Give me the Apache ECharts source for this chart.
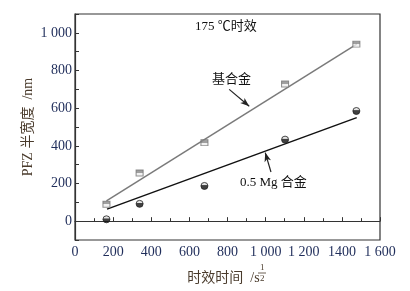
<!DOCTYPE html>
<html>
<head>
<meta charset="utf-8">
<script src="https://cdn.jsdelivr.net/npm/echarts@6/dist/echarts.min.js"></script>
<style>
html,body{margin:0;padding:0;background:#fff;}
#chart{width:410px;height:291px;}
</style>
</head>
<body>
<div id="chart"></div>
<script>
// 数据
var baseX = [165, 339, 679, 1102, 1476];
var baseY = [90, 256, 417, 728, 940];
var mgX = [165, 339, 679, 1102, 1476];
var mgY = [10, 92, 187, 433, 585];
// 拟合直线端点
var baseFit = [[165, 108], [1478, 940]];
var mgFit = [[168, 64], [1478, 550]];
var xLabels = {0: "0", 200: "200", 400: "400", 600: "600", 800: "800", 1000: "1 000", 1200: "1 200", 1400: "1400", 1600: "1 600"};
var yLabels = {0: "0", 200: "200", 400: "400", 600: "600", 800: "800", 1000: "1 000"};

var FONT = "'Liberation Serif', 'Noto Sans CJK SC', serif";
var tickColor = "#1f2d5a";
var titleColor = "#4a3b2c";

function zip(xs, ys) {
	return xs.map(function (x, i) { return [x, ys[i]]; });
}

var myChart = echarts.init(document.getElementById("chart"));

var option = {
	animation: false,
	grid: { left: 75, right: 30, top: 14, bottom: 51, show: true, borderColor: "#333", borderWidth: 1.2, backgroundColor: "transparent" },
	xAxis: {
		type: "value",
		min: 0,
		max: 1600,
		interval: 200,
		name: "时效时间  /s{f|}",
		nameLocation: "middle",
		nameGap: 31,
		nameMoveOverlap: false,
		nameTextStyle: {
			fontFamily: FONT, fontSize: 14, color: titleColor,
			rich: { f: { width: 8, height: 14 } }
		},
		axisLine: { show: true, lineStyle: { color: "#333", width: 1.2 } },
		axisTick: { inside: true, length: 4, lineStyle: { color: "#333" } },
		minorTick: { show: true, splitNumber: 2, length: 3, lineStyle: { color: "#333" } },
		splitLine: { show: false },
		axisLabel: {
			margin: 5,
			fontFamily: FONT,
			fontSize: 14,
			color: tickColor,
			formatter: function (v) { return xLabels[v] !== undefined ? xLabels[v] : ""; }
		}
	},
	yAxis: {
		type: "value",
		min: -100,
		max: 1100,
		interval: 100,
		name: "PFZ 半宽度  /nm",
		nameLocation: "middle",
		nameGap: 40,
		nameMoveOverlap: false,
		nameTextStyle: { fontFamily: FONT, fontSize: 14, color: titleColor },
		axisLine: { show: true, lineStyle: { color: "#333", width: 1.2 } },
		axisTick: { inside: true, length: 4, lineStyle: { color: "#333" } },
		splitLine: { show: false },
		axisLabel: {
			margin: 3,
			fontFamily: FONT,
			fontSize: 14,
			color: tickColor,
			formatter: function (v) { return yLabels[v] !== undefined ? yLabels[v] : ""; }
		}
	},
	series: [
		{
			name: "基合金拟合",
			type: "line",
			data: baseFit,
			symbol: "none",
			lineStyle: { color: "#7a7a7a", width: 1.5 },
			z: 2
		},
		{
			name: "0.5 Mg 合金拟合",
			type: "line",
			data: mgFit,
			symbol: "none",
			lineStyle: { color: "#111", width: 1.5 },
			z: 2
		},
		{
			name: "基合金",
			type: "scatter",
			data: zip(baseX, baseY),
			symbol: "rect",
			symbolSize: [7, 6],
			itemStyle: {
				color: new echarts.graphic.LinearGradient(0, 0, 0, 1, [
					{ offset: 0, color: "#888" },
					{ offset: 0.5, color: "#888" },
					{ offset: 0.5, color: "#eee" },
					{ offset: 1, color: "#eee" }
				]),
				borderColor: "#777",
				borderWidth: 1
			},
			z: 3
		},
		{
			name: "0.5 Mg 合金",
			type: "scatter",
			data: zip(mgX, mgY),
			symbol: "circle",
			symbolSize: 7,
			itemStyle: {
				color: new echarts.graphic.LinearGradient(0, 0, 0, 1, [
					{ offset: 0, color: "#ddd" },
					{ offset: 0.35, color: "#ddd" },
					{ offset: 0.45, color: "#111" },
					{ offset: 1, color: "#111" }
				]),
				borderColor: "#222",
				borderWidth: 1
			},
			z: 3
		},
		{
			// 标注箭头
			type: "line",
			data: [],
			markLine: {
				silent: true,
				symbol: ["none", "arrow"],
				symbolSize: [5, 9],
				label: { show: false },
				lineStyle: { color: "#222", width: 1.2, type: "solid" },
				data: [
					[{ coord: [809, 700] }, { coord: [914, 610] }],
					[{ coord: [1028, 261] }, { coord: [998, 364] }]
				]
			}
		}
	],
	graphic: [
		{ type: "text", left: 195, top: 20, style: { text: "175 ℃时效", font: "13px " + FONT, fill: "#111" } },
		{ type: "text", left: 212, top: 73, style: { text: "基合金", font: "13px " + FONT, fill: "#111" } },
		{ type: "text", left: 240, top: 176, style: { text: "0.5 Mg 合金", font: "13px " + FONT, fill: "#111" } },
		// 分数指数 1/2
		{ type: "text", left: 260, top: 263, style: { text: "1", font: "9px " + FONT, fill: titleColor } },
		{ type: "line", shape: { x1: 258, y1: 273, x2: 266, y2: 273 }, style: { stroke: titleColor, lineWidth: 0.8 } },
		{ type: "text", left: 260, top: 274, style: { text: "2", font: "9px " + FONT, fill: titleColor } }
	]
};

myChart.setOption(option);
</script>
</body>
</html>
